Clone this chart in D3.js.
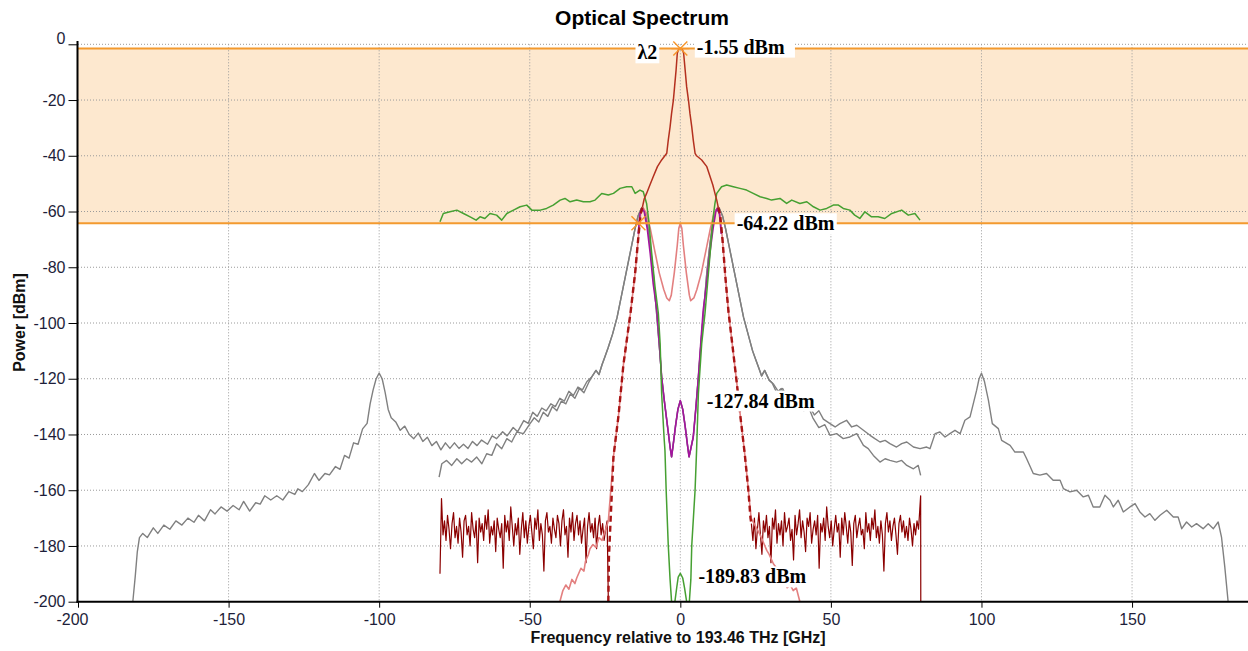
<!DOCTYPE html>
<html>
<head>
<meta charset="utf-8">
<script src="https://d3js.org/d3.v7.min.js"></script>
<style>
body { margin:0; background:#fff; }
svg text { font-family: Arial, "Liberation Sans", sans-serif; }
.tick text { font-size:16px; fill:#1e1e3a; }
.tick line { stroke:#000; }
.grid line { stroke:#9a9a9a; stroke-dasharray:1,2; }
.val { font-family:"Liberation Serif","Times New Roman",serif; font-weight:bold; font-size:20px; fill:#000; }
</style>
</head>
<body>
<svg width="1248" height="651"></svg>
<script>
// ---- data (frequency GHz, power dBm) ----
var xTicks = [-200, -150, -100, -50, 0, 50, 100, 150];
var yTicks = [0, -20, -40, -60, -80, -100, -120, -140, -160, -180, -200];
var bandLevels = [-1.55, -64.22];

// wide gray trace
var grayWide = [[-181.8,-200],[-181,-191],[-180.3,-182],[-179.6,-177],[-178.5,-175.5],[-177,-177],[-175,-173.5],[-173.5,-175.5],[-171.5,-172.5],[-169.5,-174],[-167.5,-171],[-165.5,-172.5],[-163.5,-170],[-161.5,-171.5],[-160,-169],[-158,-171],[-156,-167],[-154.5,-168.5],[-152.5,-166],[-150.5,-167.5],[-148.5,-165.5],[-146.5,-167],[-145,-164],[-143,-167.5],[-141,-164.5],[-139.5,-165],[-138,-162],[-136,-163.5],[-134,-162],[-132,-163.5],[-130,-160.5],[-128,-161.5],[-127,-159.5],[-125.5,-160.5],[-123.5,-158],[-121.5,-154],[-120,-156.5],[-118,-154],[-116.5,-154.5],[-114.5,-151.5],[-113,-152.5],[-111.5,-147.5],[-110,-148.5],[-108.5,-143],[-107,-143.5],[-105.5,-138],[-104,-136],[-103,-129],[-102,-124],[-101,-120],[-100,-118],[-99,-120],[-98,-125],[-97,-131],[-96,-134],[-94.5,-135.5],[-93,-138.5],[-91.5,-137],[-90,-140],[-88.5,-141.5],[-87,-139.5],[-85.5,-142.5],[-84,-141],[-82.5,-144],[-81,-142.5],[-79.5,-145.5],[-78,-143],[-76.5,-145],[-75,-143],[-73.5,-145],[-72,-143.5],[-70.5,-145],[-69,-142.5],[-67.5,-144],[-66,-142],[-64,-143.5],[-62.5,-140.5],[-61,-141.5],[-59,-139],[-57.5,-140.5],[-55.5,-137.5],[-54,-139],[-52,-135],[-50.5,-136],[-49,-132],[-47.5,-133.5],[-46,-130.5],[-44.5,-131.5],[-43,-129],[-41.5,-130],[-40,-127],[-38.5,-128],[-37,-124.5],[-35.5,-126],[-34,-123],[-32.5,-124],[-31,-121],[-29.5,-119.5],[-28,-117],[-27,-118.5],[-26,-115],[-25,-112],[-24,-109],[-22.5,-104],[-21,-98],[-19.5,-90],[-18,-82],[-16.5,-74],[-15,-66],[-14,-61.5],[-13,-59],[-12.5,-58.5],[-12,-59.5],[-11,-64],[-10,-72],[-9,-82],[-8,-95],[-7,-108],[-6.2,-119.4],[-5.3,-128],[-4.5,-134.9],[-3.4,-144.5],[-2.9,-148],[-2.4,-144],[-1.6,-137],[-0.8,-131],[0,-127.84],[0.8,-131],[1.6,-137],[2.4,-144],[2.9,-148],[3.5,-145],[4.3,-140.9],[5.2,-130],[6,-119.4],[6.8,-108],[7.8,-95],[8.8,-82],[9.8,-72],[10.8,-64],[11.8,-59.5],[12.5,-58.5],[13,-59],[14,-61.5],[15,-66],[16.5,-74],[18,-82],[19.5,-90],[21,-98],[22.5,-104],[24,-110],[25,-113],[26,-116],[27,-119],[28,-117],[29.5,-120.5],[31,-122],[32.5,-124.5],[34,-123.5],[35.5,-127],[37,-126],[38.5,-129],[40,-128],[41.5,-131],[43,-130],[44.5,-133],[46,-131.5],[47.5,-134.5],[49.7,-136.1],[51.4,-137.3],[53,-136.1],[55.2,-134.9],[56.9,-137.3],[58.6,-136.7],[60.8,-138.5],[63,-140.3],[64.6,-141.5],[66.3,-142.7],[68,-142.1],[69.6,-143.3],[71.8,-144.5],[73.5,-143.3],[75.2,-142.7],[77.4,-144.5],[79.6,-145.1],[81.8,-144.5],[82.9,-145.1],[84.6,-139.7],[86.2,-139.1],[87.9,-140.9],[89.5,-139.7],[91.2,-138.5],[92.9,-139.7],[94.5,-134.9],[96.2,-133.7],[98.4,-124.1],[99.2,-120],[100,-118],[101,-121],[102.3,-127.7],[103.6,-136.1],[105.6,-137.9],[106.7,-142.1],[109.5,-143.9],[111.1,-146.3],[113.9,-146.3],[115,-148.7],[117.2,-154],[119.4,-154.6],[121.6,-154],[123.8,-156.4],[126.1,-156.4],[127.2,-159.4],[129.4,-160.6],[131.6,-160],[133.8,-162.4],[135.5,-161.8],[137.1,-166],[139.3,-166],[141,-161.8],[142.7,-163.6],[143.8,-166],[145.4,-163.6],[147.1,-167.8],[149.3,-166],[151,-164.8],[152.6,-167.8],[154.3,-169.6],[155.9,-168.4],[157.6,-170.8],[159.3,-169],[161.5,-167.2],[163.7,-169.6],[165.3,-169.6],[166.5,-173.8],[168.1,-171.4],[169.8,-173.2],[171.4,-172],[173.6,-173.8],[175.3,-172],[177,-173.8],[178.6,-171.4],[179.7,-176.8],[180.8,-187.6],[181.9,-200]];

// narrow gray trace (outer parts; centre shared with the wide one)
var grayNarrowLeft = [[-80.1,-155.3],[-79.2,-150.5],[-77.6,-149.3],[-75.9,-151.1],[-74.2,-148.7],[-72.6,-150.5],[-70.9,-148.7],[-69.3,-149.9],[-67.6,-148.1],[-65.9,-150.5],[-64.3,-146.9],[-62.6,-147.5],[-61,-143.3],[-59.3,-145.1],[-57.6,-141.5],[-56,-142.7],[-54.3,-139.1],[-52.1,-139.7],[-49.9,-136.1],[-48.5,-134],[-47,-135.5],[-45.5,-132],[-44,-133.5],[-42.5,-130],[-41,-131.5],[-39.5,-128],[-38,-129],[-36.5,-125.5],[-35,-127],[-33.5,-123.5],[-32,-125],[-30.5,-121.5]];
var grayNarrowRight = [[30.5,-121.5],[32,-125],[33.5,-123.5],[35,-127],[36.5,-125.5],[38,-129],[39.5,-128],[41,-131.5],[42.5,-130],[44,-134],[46,-137.5],[48,-136.5],[49.7,-140.3],[51.9,-139.7],[54.1,-141.5],[56.3,-140.9],[58.6,-139.7],[60.8,-143.9],[62.4,-145.1],[64.1,-147.5],[66.3,-149.9],[68,-148.7],[69.6,-149.3],[71.8,-149.9],[73.5,-149.3],[75.2,-151.1],[77.4,-152.3],[79,-151.1],[79.8,-154.7]];

// dark red noise floor, 0.5 GHz spacing
var noiseStep = 0.5;
var noiseLeftStart = -79.8;
var noiseLeft = [-190,-163,-176,-171,-178,-169,-174,-181,-172,-168,
  -177,-173,-179,-170,-175,-184,-171,-169,-176,-173,
  -180,-168,-174,-177,-171,-186,-170,-175,-172,-178,
  -169,-174,-167,-179,-173,-176,-171,-182,-170,-174,
  -177,-172,-188,-169,-175,-171,-178,-166,-173,-180,
  -172,-176,-170,-183,-174,-168,-177,-171,-179,-173,
  -169,-175,-181,-170,-174,-167,-178,-172,-176,-189,
  -171,-168,-175,-173,-179,-170,-174,-177,-169,-172,
  -180,-171,-167,-176,-173,-184,-170,-175,-168,-178,
  -172,-169,-176,-171,-179,-174,-170,-186,-173,-168,
  -175,-172,-177,-170,-181,-173,-169,-176,-172,-178,-174,-171];
var noiseRightStart = 23.6;
var noiseRight = [-172,-178,-170,-181,-174,-168,-176,-183,-171,-175,
  -169,-177,-173,-186,-170,-174,-167,-179,-172,-176,
  -171,-180,-168,-175,-173,-170,-178,-174,-185,-169,
  -176,-172,-167,-177,-171,-175,-182,-170,-173,-168,
  -179,-174,-171,-176,-169,-188,-172,-175,-170,-178,
  -166,-173,-177,-171,-180,-174,-169,-175,-172,-184,
  -170,-176,-168,-173,-179,-171,-175,-187,-172,-169,
  -177,-173,-170,-176,-174,-181,-168,-175,-172,-178,
  -170,-174,-167,-177,-173,-179,-171,-176,-189,-172,
  -168,-175,-171,-178,-173,-170,-176,-183,-172,-169,
  -175,-171,-177,-173,-178,-170,-174,-180,-172,-176,-171,-174];

// red signal: flanks and core
var redFlankLeft = [[-23.9,-200],[-23.7,-184],[-22.2,-148],[-20.5,-133],[-18.9,-115],[-16.5,-96],[-15,-82],[-14,-70],[-13.2,-61],[-12.6,-58.5]];
var redCore = [[-12.6,-58.5],[-12,-55.5],[-11.2,-53.5],[-10.1,-50.5],[-9,-47.5],[-7.6,-43.9],[-6.2,-41.5],[-4.5,-39.1],[-4,-34.4],[-3.4,-29.6],[-2.9,-24.8],[-2.3,-20],[-1.9,-15.2],[-1.4,-9.2],[-1,-3.2],[-0.5,-1.6],[0,-1.55],[0.6,-1.6],[1.1,-3.2],[1.6,-9.2],[2.1,-15.2],[2.7,-20],[3.2,-24.8],[3.8,-29.6],[4.3,-34.4],[4.9,-39.1],[5.4,-40],[7.1,-41.5],[8.8,-43.9],[9.9,-47.5],[10.8,-50.5],[11.5,-53.5],[12.1,-55.9],[12.6,-58.5]];
var redFlankRight = [[12.6,-58.5],[13.2,-61],[14,-70],[15,-84],[16,-96],[17.3,-108],[18.7,-121],[20,-134],[21.4,-147],[22.6,-160],[23.3,-170],[23.6,-172]];

// salmon trace
var salmon = [[-40,-200],[-39,-196],[-38,-194],[-37,-195.5],[-36,-192],[-35,-193.5],[-34.4,-191.5],[-33,-188],[-32,-189],[-31.5,-185.5],[-30.5,-183],[-30,-181],[-29,-179.5],[-28,-180.5],[-27,-177],[-26,-178],[-24.8,-174],[-23.9,-171],[-22.2,-148],[-20.5,-133],[-18.9,-115],[-16.5,-96],[-15,-82],[-14,-70],[-13.2,-61],[-12.5,-58.5],[-11.2,-60.7],[-10,-66],[-8.5,-74],[-7,-82],[-5.5,-88],[-4.5,-91],[-3.65,-92],[-3,-90],[-2,-82],[-1,-72],[-0.5,-66],[0,-64.3],[0.5,-66],[1,-72],[2,-82],[3,-90],[3.45,-92],[4.5,-91],[5.5,-88],[7,-82],[8.5,-74],[10,-66],[11.2,-60.7],[12.5,-58.5],[13.2,-61],[14,-70],[15,-84],[16,-96],[17.3,-108],[18.7,-121],[20,-134],[21.4,-147],[22.6,-160],[23.5,-170],[25,-173],[26.5,-176],[27.5,-178.5],[28.7,-181.6],[29.5,-183],[30.9,-186.4],[32,-188],[33,-190.5],[34.2,-192.3],[35.5,-195],[36.5,-194],[37.5,-196],[38.5,-195],[39.7,-200]];

// purple trace
var purple = [[-14,-68],[-13.4,-61],[-12.8,-58.9],[-12,-60],[-11,-66],[-10,-75],[-9,-86],[-7.8,-95.4],[-7,-107],[-6.2,-119.4],[-5.3,-128],[-4.5,-134.9],[-3.4,-144.5],[-2.9,-148],[-2.4,-144],[-1.6,-137],[-0.8,-131],[0,-127.84],[0.8,-131],[1.6,-137],[2.4,-144],[2.9,-148],[3.5,-145],[4.3,-140.9],[5.2,-130],[6,-119.4],[6.8,-107],[7.6,-95.4],[8.7,-86],[9.8,-75],[10.9,-66],[11.8,-60],[12.3,-58.9],[13,-61],[13.6,-68]];

// green trace
var green = [[-79.8,-63.7],[-78.7,-60.7],[-76.5,-60.1],[-74.2,-59.5],[-72,-60.7],[-69.8,-61.9],[-67.8,-63.1],[-66.5,-61.9],[-64.9,-62.5],[-63.2,-60.7],[-61,-61.3],[-59.3,-63.1],[-57.6,-60.7],[-55.4,-59.5],[-53.2,-58.3],[-51,-57.7],[-49.3,-59.5],[-46.5,-59.5],[-44.4,-58.9],[-42.2,-57.7],[-39.9,-55.9],[-38.3,-55.3],[-36.6,-56.5],[-34.4,-55.9],[-32.2,-56.5],[-30,-56.5],[-28.3,-55.9],[-26.1,-53.5],[-23.9,-54.1],[-22.2,-53.5],[-20,-51.7],[-17.8,-51.1],[-16.1,-51.1],[-15,-53.5],[-13.4,-52.3],[-12.3,-52.9],[-11.2,-57.1],[-10.5,-63],[-9.5,-75],[-8.4,-87],[-7.3,-96.5],[-6.7,-107.4],[-6.2,-125.3],[-5.4,-141],[-5.1,-145.7],[-4.7,-160],[-4,-179.8],[-3.4,-192],[-2.9,-200],[-1.8,-200],[-1.2,-195],[-0.7,-191.2],[0,-189.83],[0.8,-191.5],[1.4,-195],[2.1,-200],[3,-200],[3.5,-192],[3.8,-179.8],[4.9,-160],[5.4,-145.7],[6,-125.3],[7.1,-107.4],[8.2,-96.5],[9.9,-75],[10.8,-63],[11.5,-57.1],[12.1,-53.5],[13.7,-51.1],[15.4,-50.5],[17.6,-51.1],[19.8,-51.7],[22,-52.3],[24.2,-53.5],[26.5,-54.7],[28.7,-55.3],[30.3,-55.9],[33.1,-55.3],[35.3,-57.1],[37,-55.9],[39.7,-57.1],[42,-56.5],[44.2,-58.3],[46.4,-59.5],[48.6,-58.9],[50.8,-57.7],[52.5,-57.7],[54.1,-58.9],[56.3,-59.5],[57.9,-61.3],[59.6,-62.5],[61.3,-60.1],[63.5,-61.9],[65.7,-61.9],[67.9,-62.5],[70.2,-60.7],[73.5,-59.5],[75.7,-61.3],[77.9,-60.7],[79.6,-63.1]];

// markers and value labels
var markers = [[0,-1.55],[-13.9,-64.22]];
var valueLabels = [
  {text:"λ2", at:[0,-1.55]},
  {text:"-1.55 dBm", at:[0,-1.55]},
  {text:"-64.22 dBm", at:[18.7,-64.22]},
  {text:"-127.84 dBm", at:[8.8,-127.84]},
  {text:"-189.83 dBm", at:[6,-189.83]}
];

// ---- chart ----
var svg = d3.select("svg");
var x = d3.scaleLinear().domain([-200, 188.5]).range([78, 1248]);
var y = d3.scaleLinear().domain([-200, 0]).range([601.7, 44.3]);
var line = d3.line().x(function(d){return x(d[0]);}).y(function(d){return y(d[1]);});

svg.append("clipPath").attr("id","plot").append("rect")
  .attr("x", 78).attr("y", 40).attr("width", 1170).attr("height", 562);

// shaded band between the two levels
svg.append("rect")
  .attr("x", x(-200)).attr("y", y(bandLevels[0]))
  .attr("width", x(188.5) - x(-200))
  .attr("height", y(bandLevels[1]) - y(bandLevels[0]))
  .attr("fill", "#fde8cf");

// grid
var grid = svg.append("g").attr("class","grid");
grid.selectAll(".vx").data(xTicks.filter(function(d){return d > -200;})).enter().append("line")
  .attr("x1", function(d){return x(d);}).attr("x2", function(d){return x(d);})
  .attr("y1", y(0)).attr("y2", y(-200));
grid.selectAll(".hy").data(yTicks.filter(function(d){return d > -200;})).enter().append("line")
  .attr("x1", x(-200)).attr("x2", 1248)
  .attr("y1", function(d){return y(d);}).attr("y2", function(d){return y(d);});

// series
var plot = svg.append("g").attr("clip-path","url(#plot)");
function trace(data, color, width, dash) {
  plot.append("path").datum(data).attr("d", line)
    .attr("fill","none").attr("stroke", color).attr("stroke-width", width)
    .attr("stroke-linejoin","round")
    .attr("stroke-dasharray", dash || null);
}

var grayCentre = grayWide.filter(function(d){return d[0] > -30.5 && d[0] < 30.5;});
var grayNarrow = grayNarrowLeft.concat(grayCentre, grayNarrowRight);

var noiseL = noiseLeft.map(function(v,i){return [noiseLeftStart + i*noiseStep, v];});
noiseL.push([-23.9,-200]);
var noiseR = noiseRight.map(function(v,i){return [noiseRightStart + i*noiseStep, v];});
noiseR.push([79.8,-162]); noiseR.push([79.85,-200]);

trace(grayWide, "#808080", 1.4);
trace(grayNarrow, "#808080", 1.4);
trace(noiseL, "#8b0000", 1.2);
trace(noiseR, "#8b0000", 1.2);
trace(salmon, "#e38080", 1.6);
trace(purple, "#a4149e", 1.6);
trace(green, "#46a032", 1.5);
trace(redFlankLeft, "#a81414", 2.4, "6,4");
trace(redFlankRight, "#a81414", 2.4, "6,4");
trace(redCore, "#b4301f", 1.5);

// band edge lines
svg.selectAll(".lvl").data(bandLevels).enter().append("line")
  .attr("x1", x(-200)).attr("x2", 1248)
  .attr("y1", function(d){return y(d);}).attr("y2", function(d){return y(d);})
  .attr("stroke", "#f39a2f").attr("stroke-width", 2);

// axes (plain hyphen minus like the original)
var fmt = function(d){ return String(d); };
var xAxis = svg.append("g").attr("transform","translate(0,601.7)")
  .call(d3.axisBottom(x).tickValues(xTicks).tickFormat(fmt).tickSize(6).tickPadding(6));
var yAxis = svg.append("g").attr("transform","translate(77.5,0)")
  .call(d3.axisLeft(y).tickValues(yTicks).tickFormat(fmt).tickSize(9).tickPadding(3));
xAxis.select(".domain").remove();
yAxis.select(".domain").remove();
xAxis.selectAll(".tick text").attr("dx", function(d){return d === -200 ? -6 : 0;});
yAxis.selectAll(".tick text").attr("y", function(d){return d === 0 ? -6 : 0;});
svg.append("line").attr("x1",77.5).attr("x2",77.5).attr("y1",41).attr("y2",602.7)
  .attr("stroke","#000").attr("stroke-width",2);
svg.append("line").attr("x1",76.5).attr("x2",1248).attr("y1",601.7).attr("y2",601.7)
  .attr("stroke","#000").attr("stroke-width",2);

// markers
svg.selectAll(".mk").data(markers).enter().append("path")
  .attr("transform", function(d){return "translate(" + x(d[0]) + "," + y(d[1]) + ")";})
  .attr("d", "M-7,-7L7,7M-7,7L7,-7M-9,0H9")
  .attr("stroke", "#f7952a").attr("stroke-width", 1.4).attr("fill","none");

// value labels with white boxes
var offsets = [
  {dx:-23, dy:10.7, anchor:"end"},
  {dx:16.5, dy:5, anchor:"start"},
  {dx:0, dy:7, anchor:"start"},
  {dx:0, dy:7, anchor:"start"},
  {dx:0, dy:10, anchor:"start"}
];
valueLabels.forEach(function(l, i) {
  var o = offsets[i];
  var g = svg.append("g");
  var t = g.append("text").attr("class","val")
    .attr("x", x(l.at[0]) + o.dx).attr("y", y(l.at[1]) + o.dy)
    .attr("text-anchor", o.anchor).text(l.text);
  var b = t.node().getBBox();
  g.insert("rect","text").attr("x", b.x - 2).attr("y", b.y + 1)
    .attr("width", b.width + (i === 1 ? 12 : 4)).attr("height", b.height - 1)
    .attr("fill","#fff");
});

// titles
svg.append("text").attr("x", 642).attr("y", 25).attr("text-anchor","middle")
  .style("font-size","21px").style("font-weight","bold").text("Optical Spectrum");
svg.append("text").attr("x", 678).attr("y", 643).attr("text-anchor","middle")
  .style("font-size","16px").style("font-weight","bold").attr("fill","#111")
  .text("Frequency relative to 193.46 THz [GHz]");
svg.append("text").attr("transform","translate(24.5,322.5) rotate(-90)").attr("text-anchor","middle")
  .style("font-size","16px").style("font-weight","bold").attr("fill","#111")
  .text("Power [dBm]");
</script>
</body>
</html>
